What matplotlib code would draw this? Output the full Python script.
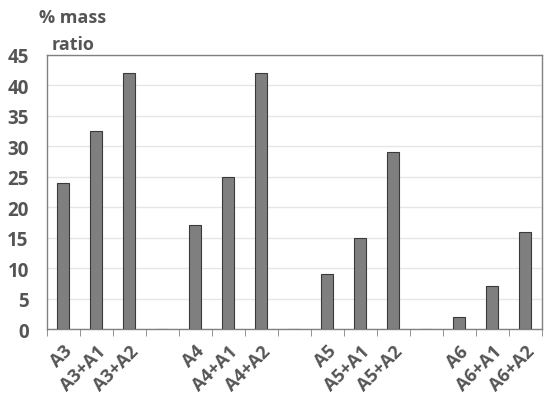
import matplotlib
matplotlib.use('Agg')
import matplotlib.pyplot as plt
import numpy as np

labels = ['A3', 'A3+A1', 'A3+A2', '', 'A4', 'A4+A1', 'A4+A2', '',
          'A5', 'A5+A1', 'A5+A2', '', 'A6', 'A6+A1', 'A6+A2']
values = [24, 32.5, 42, 0, 17, 25, 42, 0, 9, 15, 29, 0, 2, 7, 16]

plt.rcParams['font.family'] = ['Open Sans', 'DejaVu Sans']
txt = '#555555'

fig = plt.figure(figsize=(5.44, 4.02), dpi=100)
ax = fig.add_axes([0.086, 0.179, 0.91, 0.682])

x = np.arange(len(labels))
ax.bar(x, values, width=0.36, color='#7f7f7f', edgecolor='#3a3a3a', linewidth=0.8, zorder=3)

ax.set_xlim(-0.5, len(labels) - 0.5)
ax.set_ylim(0, 45)
ax.set_yticks(np.arange(0, 46, 5))
ax.yaxis.grid(True, color='#e6e6e6', linewidth=1, zorder=0)

ax.set_xticks(x)
ax.set_xticklabels(labels, rotation=45, ha='right', rotation_mode='anchor',
                   fontsize=13, fontweight='bold', color=txt)
ax.tick_params(axis='x', which='major', length=0, pad=9)
ax.set_xticks(np.arange(-0.5, len(labels), 1), minor=True)
ax.tick_params(axis='x', which='minor', length=5, color='#808080', direction='out')
ax.tick_params(axis='y', length=0, labelsize=13.5, labelcolor=txt, pad=13)
for t in ax.get_yticklabels():
    t.set_fontweight('bold')

for s in ax.spines.values():
    s.set_color('#808080')
    s.set_linewidth(1)

fig.text(0.072, 0.955, '% mass', fontsize=13, fontweight='bold', color=txt, ha='left', va='center')
fig.text(0.094, 0.888, 'ratio', fontsize=13, fontweight='bold', color=txt, ha='left', va='center')

fig.savefig('out.png', dpi=100)
